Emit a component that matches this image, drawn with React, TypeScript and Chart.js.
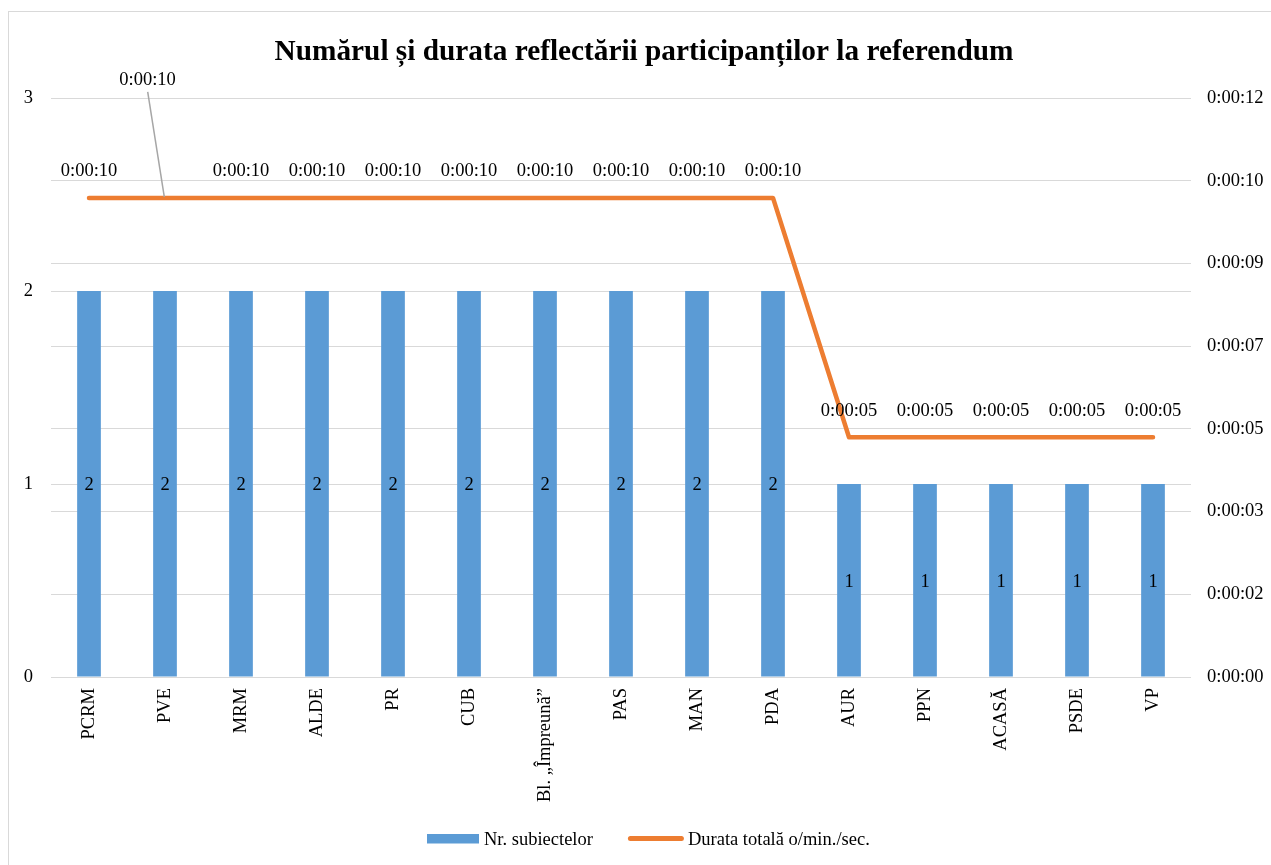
import React, { useEffect, useRef } from 'react';
import { Chart, registerables } from 'chart.js';

Chart.register(...registerables);

const TITLE = 'Numărul și durata reflectării participanților la referendum';
const categories = ['PCRM', 'PVE', 'MRM', 'ALDE', 'PR', 'CUB', 'Bl. „Împreună”', 'PAS', 'MAN', 'PDA', 'AUR', 'PPN', 'ACASĂ', 'PSDE', 'VP'];
const subjectCounts = [2, 2, 2, 2, 2, 2, 2, 2, 2, 2, 1, 1, 1, 1, 1];
const durationSeconds = [9.93, 9.93, 9.93, 9.93, 9.93, 9.93, 9.93, 9.93, 9.93, 9.93, 4.97, 4.97, 4.97, 4.97, 4.97];
const leftAxisMax = 3;
const rightAxisMax = 12;
const rightTickLabels = ['0:00:00', '0:00:02', '0:00:03', '0:00:05', '0:00:07', '0:00:09', '0:00:10', '0:00:12'];
const legendLabels = ['Nr. subiectelor', 'Durata totală o/min./sec.'];

const FONT = "'Liberation Serif', 'Times New Roman', serif";
const TEXT = '#000000';
const GRID = '#d9d9d9';
const BLUE = '#5b9bd5';
const ORANGE = '#ed7d31';
const MOVED_LABEL = 1;

function fmtTime(sec: number): string {
  const s = Math.round(sec);
  const h = Math.floor(s / 3600);
  const m = Math.floor((s % 3600) / 60);
  const r = s % 60;
  return `${h}:${String(m).padStart(2, '0')}:${String(r).padStart(2, '0')}`;
}

const overlayPlugin = {
  id: 'overlay',
  afterDraw(chart: any) {
    const ctx = chart.ctx as CanvasRenderingContext2D;
    ctx.save();
    // frame
    ctx.strokeStyle = GRID;
    ctx.lineWidth = 1;
    ctx.strokeRect(8.5, 11.5, 1400, 1000);

    // title
    ctx.fillStyle = TEXT;
    ctx.font = `bold 29.3px ${FONT}`;
    ctx.textAlign = 'center';
    ctx.textBaseline = 'alphabetic';
    ctx.fillText(TITLE, 644, 59.5);

    // bar value labels
    ctx.font = `18.5px ${FONT}`;
    const barMeta = chart.getDatasetMeta(1);
    barMeta.data.forEach((el: any, i: number) => {
      const p = el.getProps(['x', 'y', 'base'], true);
      ctx.fillText(String(subjectCounts[i]), p.x, (p.y + p.base) / 2 + 6.5);
    });

    // line value labels
    const lineMeta = chart.getDatasetMeta(0);
    lineMeta.data.forEach((el: any, i: number) => {
      const x = el.x;
      const y = el.y;
      const txt = fmtTime(durationSeconds[i]);
      if (i === MOVED_LABEL) {
        ctx.strokeStyle = '#a6a6a6';
        ctx.lineWidth = 1.5;
        ctx.beginPath();
        ctx.moveTo(x - 17.3, y - 106);
        ctx.lineTo(x - 0.7, y - 1);
        ctx.stroke();
        ctx.fillText(txt, x - 17.5, y - 113);
      } else {
        ctx.fillText(txt, x, y - 21.5);
      }
    });

    // legend
    ctx.textAlign = 'left';
    const x0 = 427;
    ctx.fillStyle = BLUE;
    ctx.fillRect(x0, 834, 52, 9.5);
    ctx.fillStyle = TEXT;
    const t1x = x0 + 57;
    ctx.fillText(legendLabels[0], t1x, 845);
    const w1 = ctx.measureText(legendLabels[0]).width;
    const lx = t1x + w1 + 35;
    ctx.strokeStyle = ORANGE;
    ctx.lineWidth = 5;
    ctx.lineCap = 'round';
    ctx.beginPath();
    ctx.moveTo(lx + 2.5, 838.5);
    ctx.lineTo(lx + 53.5, 838.5);
    ctx.stroke();
    ctx.fillText(legendLabels[1], lx + 60, 845);
    ctx.restore();
  },
};

export default function App() {
  const canvasRef = useRef<HTMLCanvasElement | null>(null);

  useEffect(() => {
    const canvas = canvasRef.current;
    if (!canvas) return;
    const tickFont = { family: FONT, size: 18.5 };
    const chart = new Chart(canvas, {
      type: 'bar',
      data: {
        labels: categories,
        datasets: [
          {
            type: 'line',
            label: legendLabels[1],
            data: durationSeconds,
            yAxisID: 'y2',
            borderColor: ORANGE,
            backgroundColor: ORANGE,
            borderWidth: 4.5,
            pointRadius: 0,
            pointHoverRadius: 0,
            tension: 0,
            borderCapStyle: 'round',
            borderJoinStyle: 'round',
            order: 0,
          } as any,
          {
            type: 'bar',
            label: legendLabels[0],
            data: subjectCounts,
            yAxisID: 'y',
            backgroundColor: BLUE,
            borderWidth: 0,
            categoryPercentage: 1,
            barPercentage: 0.312,
            order: 1,
          } as any,
        ],
      },
      options: {
        responsive: false,
        animation: false,
        devicePixelRatio: 1,
        layout: { padding: { top: 98, bottom: 48, left: 0, right: 0 } },
        plugins: {
          legend: { display: false },
          title: { display: false },
          tooltip: { enabled: false },
        },
        scales: {
          x: {
            grid: { display: false },
            border: { display: false },
            ticks: {
              font: tickFont,
              color: TEXT,
              minRotation: 90,
              maxRotation: 90,
              padding: 3,
              autoSkip: false,
            },
            afterFit: (s: any) => {
              s.height = 140;
            },
          },
          y: {
            position: 'left',
            min: 0,
            max: leftAxisMax,
            ticks: { stepSize: 1, font: tickFont, color: TEXT, padding: 18 },
            grid: { color: GRID, drawTicks: false, lineWidth: 1 },
            border: { display: false },
            afterFit: (s: any) => {
              s.width = 51;
            },
          },
          y2: {
            position: 'right',
            min: 0,
            max: rightAxisMax,
            afterBuildTicks: (s: any) => {
              s.ticks = rightTickLabels.map((_, k) => ({ value: (k * rightAxisMax) / (rightTickLabels.length - 1) }));
            },
            ticks: {
              font: tickFont,
              color: TEXT,
              padding: 16,
              autoSkip: false,
              callback: (_v: any, i: number) => rightTickLabels[i],
            },
            grid: { color: GRID, drawTicks: false, lineWidth: 1 },
            border: { display: false },
            afterFit: (s: any) => {
              s.width = 80;
            },
          },
        },
      } as any,
      plugins: [overlayPlugin],
    });
    return () => chart.destroy();
  }, []);

  return (
    <div style={{ position: 'absolute', left: 0, top: 0, width: 1271, height: 865, background: '#fff' }}>
      <canvas ref={canvasRef} width={1271} height={865} style={{ display: 'block' }} />
    </div>
  );
}
